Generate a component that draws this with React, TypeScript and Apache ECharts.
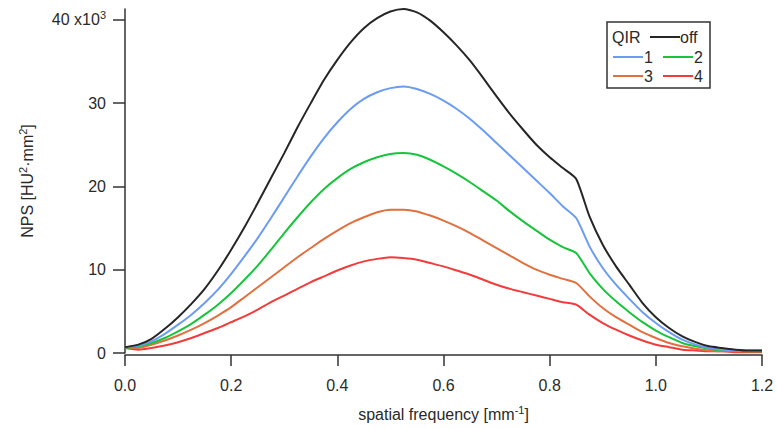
import React, { useEffect, useRef } from "react";
import * as echarts from "echarts";

const freq = [
  0.0, 0.025, 0.05, 0.075, 0.1, 0.125, 0.15, 0.175, 0.2, 0.225, 0.25, 0.275,
  0.3, 0.325, 0.35, 0.375, 0.4, 0.425, 0.45, 0.475, 0.5, 0.525, 0.55, 0.575,
  0.6, 0.625, 0.65, 0.675, 0.7, 0.725, 0.75, 0.775, 0.8, 0.825, 0.85, 0.875,
  0.9, 0.925, 0.95, 0.975, 1.0, 1.025, 1.05, 1.075, 1.1, 1.125, 1.15, 1.175, 1.2,
];

// NPS values in units of 10^3 HU^2·mm^2
const qirOff = [
  0.7, 1.0, 1.7, 2.9, 4.3, 5.9, 7.7, 9.9, 12.4, 15.1, 18.0, 21.0,
  24.0, 27.1, 30.0, 32.8, 35.2, 37.3, 39.0, 40.2, 41.0, 41.3, 40.9, 39.9,
  38.5, 36.9, 35.1, 33.0, 30.8, 28.7, 26.8, 25.0, 23.5, 22.2, 20.9, 16.4,
  13.0, 10.4, 8.2, 6.0, 4.3, 3.0, 2.0, 1.3, 0.8, 0.6, 0.4, 0.3, 0.3,
];
const qir1 = [
  0.7, 0.9, 1.4, 2.3, 3.4, 4.6, 6.0, 7.6, 9.5, 11.6, 13.8, 16.2,
  18.7, 21.2, 23.6, 25.8, 27.7, 29.3, 30.5, 31.3, 31.8, 32.0, 31.7, 31.1,
  30.3, 29.3, 28.1, 26.7, 25.2, 23.7, 22.2, 20.7, 19.2, 17.6, 16.2, 12.8,
  10.2, 8.2, 6.5, 4.9, 3.6, 2.5, 1.6, 1.0, 0.6, 0.4, 0.3, 0.3, 0.3,
];
const qir2 = [
  0.6, 0.8, 1.2, 1.8, 2.6, 3.5, 4.6, 5.8, 7.2, 8.8, 10.5, 12.4,
  14.4, 16.3, 18.1, 19.7, 21.0, 22.1, 22.9, 23.5, 23.9, 24.0, 23.8, 23.2,
  22.4, 21.5, 20.5, 19.4, 18.3, 17.0, 15.8, 14.7, 13.6, 12.7, 12.0, 9.6,
  7.7, 6.2, 4.9, 3.7, 2.7, 1.9, 1.2, 0.8, 0.5, 0.3, 0.3, 0.2, 0.2,
];
const qir3 = [
  0.6, 0.6, 1.0, 1.5, 2.1, 2.8, 3.6, 4.5, 5.5, 6.7, 7.9, 9.1,
  10.3, 11.5, 12.6, 13.7, 14.7, 15.6, 16.3, 16.9, 17.2, 17.2, 17.0, 16.5,
  15.9, 15.2, 14.4, 13.5, 12.6, 11.7, 10.8, 10.0, 9.4, 8.9, 8.4, 6.8,
  5.4, 4.3, 3.4, 2.5, 1.8, 1.2, 0.8, 0.5, 0.3, 0.2, 0.2, 0.2, 0.2,
];
const qir4 = [
  0.6, 0.4, 0.6, 0.9, 1.3, 1.8, 2.4, 3.0, 3.7, 4.4, 5.2, 6.1,
  6.9, 7.7, 8.5, 9.2, 9.9, 10.5, 11.0, 11.3, 11.5, 11.4, 11.2, 10.8,
  10.4, 9.9, 9.4, 8.8, 8.2, 7.7, 7.3, 6.9, 6.5, 6.1, 5.8, 4.6,
  3.6, 2.8, 2.1, 1.5, 1.0, 0.7, 0.4, 0.3, 0.2, 0.2, 0.1, 0.1, 0.1,
];

const seriesNames = ["off", "1", "2", "3", "4"];
const seriesData = [qirOff, qir1, qir2, qir3, qir4];
const seriesColors = ["#262626", "#6b9cf2", "#18c43c", "#e2703e", "#f23c3c"];

const xTicks = [0, 0.2, 0.4, 0.6, 0.8, 1.0, 1.2];
const yTicks = [0, 10, 20, 30, 40];

const FONT = 'Arial, "Liberation Sans", sans-serif';
const TXT = "#2a2a2a";

const supStyle = {
  fontSize: 11,
  verticalAlign: "top",
  padding: [0, 0, 9, 0],
  color: TXT,
  fontFamily: FONT,
};

export default function App() {
  const ref = useRef<HTMLDivElement>(null);

  useEffect(() => {
    if (!ref.current) return;
    const chart = echarts.init(ref.current, null, { renderer: "svg" });

    const series = seriesData.map((vals, i) => ({
      name: seriesNames[i],
      type: "line",
      data: vals.map((v, j) => [freq[j], v]),
      showSymbol: false,
      smooth: 0.2,
      lineStyle: { color: seriesColors[i], width: 2 },
      itemStyle: { color: seriesColors[i] },
      z: 10 - i,
    }));

    const rowY = [37, 57, 76];
    const legendItems: any[] = [
      {
        type: "rect",
        shape: { x: 607, y: 22, width: 103, height: 66 },
        style: { fill: "#fff", stroke: "#333", lineWidth: 1.5 },
      },
      {
        type: "text",
        x: 612,
        y: rowY[0],
        style: { text: "QIR", font: `16px ${FONT}`, fill: TXT, verticalAlign: "middle" },
      },
      {
        type: "line",
        shape: { x1: 650, y1: rowY[0], x2: 680, y2: rowY[0] },
        style: { stroke: seriesColors[0], lineWidth: 2 },
      },
      {
        type: "text",
        x: 680,
        y: rowY[0],
        style: { text: "off", font: `16px ${FONT}`, fill: TXT, verticalAlign: "middle" },
      },
    ];
    const pos = [
      [613, rowY[1]],
      [663, rowY[1]],
      [613, rowY[2]],
      [663, rowY[2]],
    ];
    for (let k = 0; k < 4; k++) {
      const [x, y] = pos[k];
      legendItems.push({
        type: "line",
        shape: { x1: x, y1: y, x2: x + 30, y2: y },
        style: { stroke: seriesColors[k + 1], lineWidth: 2 },
      });
      legendItems.push({
        type: "text",
        x: x + 31,
        y: y,
        style: {
          text: seriesNames[k + 1],
          font: `16px ${FONT}`,
          fill: TXT,
          verticalAlign: "middle",
        },
      });
    }

    chart.setOption({
      animation: false,
      backgroundColor: "#fff",
      grid: { left: 125, right: 15, top: 9, bottom: 76 },
      xAxis: {
        type: "value",
        min: 0,
        max: 1.2,
        interval: 0.2,
        offset: 2,
        name: "spatial frequency [mm{sup|-1}]",
        nameLocation: "middle",
        nameGap: 49,
        nameTextStyle: {
          fontFamily: FONT,
          fontSize: 16,
          color: TXT,
          rich: { sup: supStyle },
        },
        axisLine: { onZero: false, lineStyle: { color: "#333", width: 1.5 } },
        axisTick: { show: true, inside: false, length: 11, lineStyle: { color: "#333", width: 1.5 }, customValues: xTicks },
        axisLabel: {
          margin: 22,
          fontFamily: FONT,
          fontSize: 16,
          color: TXT,
          customValues: xTicks,
          formatter: (v: number) => v.toFixed(1),
        },
        splitLine: { show: false },
      },
      yAxis: {
        type: "value",
        min: 0,
        max: 41.3,
        interval: 10,
        offset: 2,
        name: "NPS [HU{sup|2}·mm{sup|2}]",
        nameLocation: "middle",
        nameRotate: 90,
        nameGap: 86,
        nameTextStyle: {
          fontFamily: FONT,
          fontSize: 16,
          color: TXT,
          rich: { sup: supStyle },
        },
        axisLine: { show: true, lineStyle: { color: "#333", width: 1.5 } },
        axisTick: { show: true, inside: false, length: 12, lineStyle: { color: "#333", width: 1.5 }, customValues: yTicks },
        axisLabel: {
          margin: 17,
          fontFamily: FONT,
          fontSize: 16,
          color: TXT,
          customValues: yTicks,
          formatter: (v: number) => (v === 40 ? "40 x10{sup|3}" : String(v)),
          rich: { sup: supStyle },
        },
        splitLine: { show: false },
      },
      series,
      graphic: legendItems,
    });

    return () => chart.dispose();
  }, []);

  return <div ref={ref} style={{ width: 777, height: 429, position: "absolute", left: 0, top: 0 }} />;
}
